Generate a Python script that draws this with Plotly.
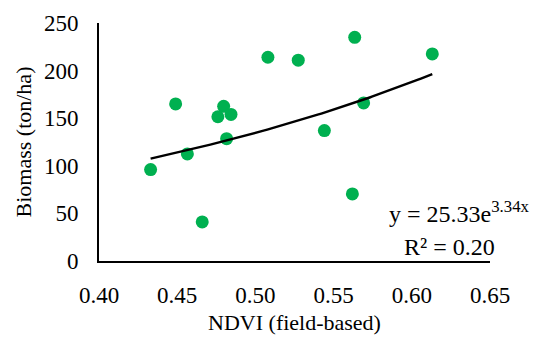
import numpy as np
import plotly.graph_objects as go

ndvi = [0.433, 0.449, 0.4565, 0.466, 0.476, 0.4797, 0.4816, 0.4844, 0.508, 0.5274,
        0.5441, 0.5635, 0.562, 0.5692, 0.6131]
biomass = [96, 165, 112.5, 41, 151.5, 162.5, 128.5, 154, 214, 211,
           137, 235, 70.5, 166, 217.5]

fit_a = 25.33
fit_b = 3.34
r2 = 0.20

x_ticks = [0.40, 0.45, 0.50, 0.55, 0.60, 0.65]
y_ticks = [0, 50, 100, 150, 200, 250]

xs = np.linspace(min(ndvi), max(ndvi), 100)
ys = fit_a * np.exp(fit_b * xs)

FAM = "Liberation Serif"
tick_font = dict(family=FAM, size=23, color="black")
title_font = dict(family=FAM, size=22, color="black")
ann_font = dict(family=FAM, size=24, color="black")

fig = go.Figure()
fig.add_trace(go.Scatter(x=ndvi, y=biomass, mode="markers",
                         marker=dict(color="#00B050", size=13, line=dict(width=0)),
                         showlegend=False))
fig.add_trace(go.Scatter(x=xs, y=ys, mode="lines",
                         line=dict(color="black", width=2.4), showlegend=False))

fig.add_annotation(xref="paper", yref="paper", x=0.921, y=0.205,
                   xanchor="center", yanchor="middle",
                   text=f"y = {fit_a:.2f}e<sup>{fit_b:.2f}x</sup>", showarrow=False,
                   font=ann_font)
fig.add_annotation(xref="paper", yref="paper", x=0.896, y=0.057,
                   xanchor="center", yanchor="middle",
                   text=f"R² = {r2:.2f}", showarrow=False,
                   font=ann_font)

fig.update_layout(
    template="none",
    width=535, height=337,
    margin=dict(l=99, r=45, t=23, b=76),
    paper_bgcolor="white", plot_bgcolor="white",
    font=dict(family=FAM, size=22, color="black"),
    xaxis=dict(range=[0.40, 0.65], tickvals=x_ticks,
               ticktext=[f"{v:.2f}" for v in x_ticks],
               tickfont=tick_font,
               showgrid=False, zeroline=False, showline=True,
               linecolor="black", linewidth=2, ticks="",
               ticklabelstandoff=12,
               title=dict(text="NDVI (field-based)", font=title_font, standoff=8)),
    yaxis=dict(range=[0, 250], tickvals=y_ticks,
               tickfont=tick_font,
               showgrid=False, zeroline=False, showline=True,
               linecolor="black", linewidth=2, ticks="",
               ticklabelstandoff=14,
               title=dict(text="Biomass (ton/ha)", font=title_font, standoff=6)),
)
fig.write_html("out.html")
